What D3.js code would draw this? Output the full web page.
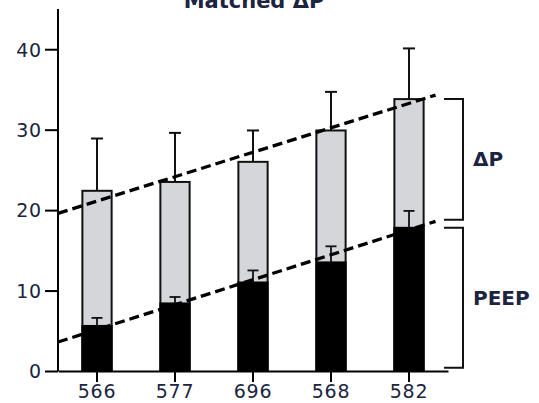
<!DOCTYPE html>
<html>
<head>
<meta charset="utf-8">
<script src="https://cdn.jsdelivr.net/npm/d3@7"></script>
<style>
	body { margin: 0; background: #fff; }
	text { font-family: "DejaVu Sans", sans-serif; fill: #1b2440; }
</style>
</head>
<body>
<div id="chart"></div>
<script>
// values
var categories = ["566", "577", "696", "568", "582"];
var totalValues = [22.4, 23.5, 26.0, 29.9, 33.8];   // PEEP + deltaP (grey bar top)
var totalErrTop = [28.9, 29.6, 29.9, 34.7, 40.1];
var peepValues = [5.6, 8.4, 11.0, 13.5, 17.8];      // black part
var peepErrTop = [6.6, 9.2, 12.5, 15.5, 19.9];
var yTicks = [0, 10, 20, 30, 40];

// dashed trend lines: [start, end] in category index units and values
var trendIdx = [-0.5, 4.34];
var upperTrend = [19.6, 34.3];
var lowerTrend = [3.6, 18.6];

// brackets on the right
var dpRange = [18.8, 33.8];
var peepRange = [0.4, 17.8];

var width = 539;
var height = 403;

var svg = d3.select("#chart")
	.append("svg")
	.attr("width", width)
	.attr("height", height);

var x = d3.scaleBand()
	.domain(categories)
	.range([58, 448])
	.paddingInner(0.625)
	.paddingOuter(0.3125);

var y = d3.scaleLinear()
	.domain([0, 45])
	.range([371, 9]);

var xi = d3.scaleLinear()
	.domain([0, categories.length - 1])
	.range([x(categories[0]) + x.bandwidth()/2, x(categories[categories.length-1]) + x.bandwidth()/2]);

// title (cut off at the top in the original)
svg.append("text")
	.attr("x", 254)
	.attr("y", 8)
	.attr("text-anchor", "middle")
	.attr("font-size", 21)
	.attr("font-weight", "bold")
	.text("Matched ΔP");

// grey bars (total) then black bars (PEEP)
var bars = svg.append("g");
bars.selectAll("rect.total")
	.data(categories)
	.enter()
	.append("rect")
	.attr("class", "total")
	.attr("x", function(d) { return x(d); })
	.attr("width", x.bandwidth())
	.attr("y", function(d, i) { return y(totalValues[i]); })
	.attr("height", function(d, i) { return y(0) - y(totalValues[i]); })
	.attr("fill", "#d5d6da")
	.attr("stroke", "#111")
	.attr("stroke-width", 2);

bars.selectAll("rect.peep")
	.data(categories)
	.enter()
	.append("rect")
	.attr("class", "peep")
	.attr("x", function(d) { return x(d); })
	.attr("width", x.bandwidth())
	.attr("y", function(d, i) { return y(peepValues[i]); })
	.attr("height", function(d, i) { return y(0) - y(peepValues[i]); })
	.attr("fill", "#000")
	.attr("stroke", "#000")
	.attr("stroke-width", 2);

// error bars
function errorBars(base, tops, capW, sw) {
	var g = svg.append("g").attr("stroke", "#111").attr("stroke-width", sw);
	for (var i = 0; i < categories.length; i++) {
		var cx = x(categories[i]) + x.bandwidth()/2;
		g.append("line")
			.attr("x1", cx).attr("x2", cx)
			.attr("y1", y(base[i])).attr("y2", y(tops[i]));
		g.append("line")
			.attr("x1", cx - capW/2).attr("x2", cx + capW/2)
			.attr("y1", y(tops[i])).attr("y2", y(tops[i]));
	}
}
errorBars(totalValues, totalErrTop, 12, 2);
errorBars(peepValues, peepErrTop, 11, 1.8);

// dashed trend lines
var trendLine = d3.line()
	.x(function(d) { return xi(d[0]); })
	.y(function(d) { return y(d[1]); });

[upperTrend, lowerTrend].forEach(function(t) {
	svg.append("path")
		.datum([[trendIdx[0], t[0]], [trendIdx[1], t[1]]])
		.attr("d", trendLine)
		.attr("fill", "none")
		.attr("stroke", "#000")
		.attr("stroke-width", 3.3)
		.attr("stroke-dasharray", "10,5");
});

// axes
var yAxis = svg.append("g")
	.attr("transform", "translate(58,0)")
	.call(d3.axisLeft(y).tickValues(yTicks).tickSize(13).tickPadding(3).tickSizeOuter(0));
yAxis.select(".domain").attr("stroke-width", 2).attr("d", "M0," + y(45) + "V" + y(0));
yAxis.selectAll(".tick line").attr("stroke-width", 2);
yAxis.selectAll("text")
	.attr("font-size", 19)
	.attr("letter-spacing", 0.8)
	.attr("dy", "0.36em")
	.attr("fill", "#1b2440");

var xAxis = svg.append("g")
	.attr("transform", "translate(0," + y(0) + ")")
	.call(d3.axisBottom(x).tickSize(11).tickPadding(3).tickSizeOuter(0));
xAxis.select(".domain").attr("stroke-width", 2);
xAxis.selectAll(".tick line").attr("stroke-width", 2);
xAxis.selectAll("text")
	.attr("font-size", 19)
	.attr("letter-spacing", 0.8)
	.attr("fill", "#1b2440");

// brackets
function bracket(r, label, ly) {
	var x0 = 444, x1 = 463;
	svg.append("path")
		.attr("d", "M" + x0 + "," + y(r[1]) + "H" + x1 + "V" + y(r[0]) + "H" + x0)
		.attr("fill", "none")
		.attr("stroke", "#111")
		.attr("stroke-width", 2);
	svg.append("text")
		.attr("x", 473)
		.attr("y", ly)
		.attr("font-size", 20)
		.attr("font-weight", "bold")
		.text(label);
}
bracket(dpRange, "ΔP", 166);
bracket(peepRange, "PEEP", 305);
</script>
</body>
</html>
